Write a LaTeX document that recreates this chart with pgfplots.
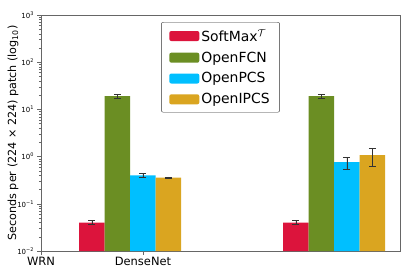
\documentclass[border=0pt]{standalone}
\usepackage{fontspec}
\setmainfont{DejaVu Sans}
\usepackage{pgfplots}
\pgfplotsset{compat=1.18}
\definecolor{c1}{RGB}{220,20,60}
\definecolor{c2}{RGB}{107,142,35}
\definecolor{c3}{RGB}{0,191,255}
\definecolor{c4}{RGB}{218,165,32}
\begin{document}
\begin{tikzpicture}
\begin{axis}[
  scale only axis, width=359bp, height=236bp,
  ymode=log, log origin=infty, ymin=1e-2, ymax=1e3,
  xmin=0, xmax=3.52,
  xtick={0,1}, xticklabels={WRN,DenseNet},
  ytick={1e-2,1e-1,1,1e1,1e2,1e3},
  yticklabels={10\textsuperscript{−2},10\textsuperscript{−1},10\textsuperscript{0},10\textsuperscript{1},10\textsuperscript{2},10\textsuperscript{3}},
  tick align=outside, xtick pos=bottom, ytick pos=left,
  axis line style={black!60}, every tick/.style={black!60},
  major tick length=3.5bp, minor tick length=2bp,
  xticklabel style={font=\fontsize{11.5}{13}\selectfont, yshift=1bp},
  yticklabel style={font=\fontsize{7}{8}\selectfont},
  ylabel={Seconds per (224 × 224) patch (log\textsubscript{10})},
  every axis y label/.style={at={(rel axis cs:0,0.5)}, xshift=-28bp, rotate=90, anchor=center,
    font=\fontsize{11.2}{13}\selectfont},
  legend style={at={(0.5,0.97)}, anchor=north, draw=black!80, rounded corners=2bp,
    font=\fontsize{14}{16}\selectfont, cells={anchor=west}, row sep=5bp,
    inner xsep=8bp, inner ysep=5bp},
  legend image code/.code={\fill[#1] (0bp,-5bp) rectangle (30bp,5bp);},
  /tikz/every even column/.append style={column sep=10bp},
]
\addplot[ybar, bar width=0.25, bar shift=0, fill=c1, draw=none,
  error bars/.cd, y dir=both, y explicit,
  error bar style={black!80, line width=0.6pt},
  error mark options={rotate=90, black!80, mark size=3.5bp, line width=0.6pt}]
  coordinates {(0.5,0.040) +- (0,0.004) (2.5,0.040) +- (0,0.004)};
\addplot[ybar, bar width=0.25, bar shift=0, fill=c2, draw=none,
  error bars/.cd, y dir=both, y explicit,
  error bar style={black!80, line width=0.6pt},
  error mark options={rotate=90, black!80, mark size=3.5bp, line width=0.6pt}]
  coordinates {(0.75,19) +- (0,1.6) (2.75,19) +- (0,1.8)};
\addplot[ybar, bar width=0.25, bar shift=0, fill=c3, draw=none,
  error bars/.cd, y dir=both, y explicit,
  error bar style={black!80, line width=0.6pt},
  error mark options={rotate=90, black!80, mark size=3.5bp, line width=0.6pt}]
  coordinates {(1.0,0.40) +- (0,0.04) (3.0,0.76) +- (0,0.21)};
\addplot[ybar, bar width=0.25, bar shift=0, fill=c4, draw=none,
  error bars/.cd, y dir=both, y explicit,
  error bar style={black!80, line width=0.6pt},
  error mark options={rotate=90, black!80, mark size=3.5bp, line width=0.6pt}]
  coordinates {(1.25,0.36) +- (0,0.012) (3.25,1.07) +- (0,0.44)};
\legend{SoftMax$^{\mathcal{T}}$, OpenFCN, OpenPCS, OpenIPCS}
\coordinate (bl) at (rel axis cs:0,0);
\coordinate (tr) at (rel axis cs:1,1);
\end{axis}
\pgfresetboundingbox
\useasboundingbox ([shift={(-41bp,-20bp)}]bl) rectangle ([shift={(7bp,15bp)}]tr);
\end{tikzpicture}
\end{document}
